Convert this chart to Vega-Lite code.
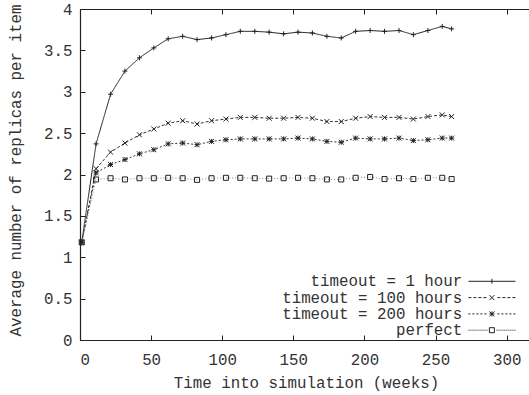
{
 "$schema": "https://vega.github.io/schema/vega-lite/v6.json",
 "width": 449, "height": 331,
 "autosize": "none",
 "padding": {"left": 80, "top": 9, "right": 0, "bottom": 55},
 "background": "white",
 "config": {
  "view": {"stroke": null},
  "font": "Liberation Mono",
  "axis": {"labelFont": "Liberation Mono", "labelFontSize": 15.8, "labelColor": "#333", "titleFont": "Liberation Mono", "titleFontSize": 15.8, "titleFontWeight": "normal", "titleColor": "#333", "domainColor": "#222", "domainWidth": 1.2, "tickColor": "#222", "tickWidth": 1, "grid": false, "tickSize": -5},
  "legend": {"orient": "none", "legendX": 404, "legendY": 264.4, "labelAlign": "right", "labelOffset": -37.5, "labelFont": "Liberation Mono", "labelFontSize": 15.8, "labelColor": "#333", "labelLimit": 400, "symbolSize": 25, "symbolStrokeWidth": 1, "symbolStrokeColor": "#222", "symbolFillColor": "transparent", "symbolOpacity": 1, "rowPadding": -0.7, "padding": 0, "symbolOffset": 0}
 },
 "data": {"values": [
  {"series":"timeout = 1 hour","week":1.2,"value":1.18},{"series":"timeout = 1 hour","week":11.3,"value":2.37},{"series":"timeout = 1 hour","week":21.5,"value":2.97},{"series":"timeout = 1 hour","week":31.6,"value":3.25},{"series":"timeout = 1 hour","week":41.8,"value":3.41},{"series":"timeout = 1 hour","week":51.9,"value":3.53},{"series":"timeout = 1 hour","week":62.0,"value":3.64},{"series":"timeout = 1 hour","week":72.2,"value":3.67},{"series":"timeout = 1 hour","week":82.3,"value":3.63},{"series":"timeout = 1 hour","week":92.5,"value":3.65},{"series":"timeout = 1 hour","week":102.6,"value":3.69},{"series":"timeout = 1 hour","week":112.7,"value":3.73},{"series":"timeout = 1 hour","week":122.9,"value":3.73},{"series":"timeout = 1 hour","week":133.0,"value":3.72},{"series":"timeout = 1 hour","week":143.2,"value":3.70},{"series":"timeout = 1 hour","week":153.3,"value":3.72},{"series":"timeout = 1 hour","week":163.4,"value":3.71},{"series":"timeout = 1 hour","week":173.6,"value":3.67},{"series":"timeout = 1 hour","week":183.7,"value":3.65},{"series":"timeout = 1 hour","week":193.8,"value":3.73},{"series":"timeout = 1 hour","week":204.0,"value":3.74},{"series":"timeout = 1 hour","week":214.1,"value":3.73},{"series":"timeout = 1 hour","week":224.3,"value":3.74},{"series":"timeout = 1 hour","week":234.4,"value":3.69},{"series":"timeout = 1 hour","week":244.6,"value":3.74},{"series":"timeout = 1 hour","week":254.7,"value":3.79},{"series":"timeout = 1 hour","week":261.3,"value":3.76},
  {"series":"timeout = 100 hours","week":1.2,"value":1.18},{"series":"timeout = 100 hours","week":11.3,"value":2.07},{"series":"timeout = 100 hours","week":21.5,"value":2.27},{"series":"timeout = 100 hours","week":31.6,"value":2.38},{"series":"timeout = 100 hours","week":41.8,"value":2.48},{"series":"timeout = 100 hours","week":51.9,"value":2.55},{"series":"timeout = 100 hours","week":62.0,"value":2.62},{"series":"timeout = 100 hours","week":72.2,"value":2.65},{"series":"timeout = 100 hours","week":82.3,"value":2.61},{"series":"timeout = 100 hours","week":92.5,"value":2.65},{"series":"timeout = 100 hours","week":102.6,"value":2.67},{"series":"timeout = 100 hours","week":112.7,"value":2.69},{"series":"timeout = 100 hours","week":122.9,"value":2.69},{"series":"timeout = 100 hours","week":133.0,"value":2.68},{"series":"timeout = 100 hours","week":143.2,"value":2.68},{"series":"timeout = 100 hours","week":153.3,"value":2.69},{"series":"timeout = 100 hours","week":163.4,"value":2.68},{"series":"timeout = 100 hours","week":173.6,"value":2.64},{"series":"timeout = 100 hours","week":183.7,"value":2.64},{"series":"timeout = 100 hours","week":193.8,"value":2.68},{"series":"timeout = 100 hours","week":204.0,"value":2.70},{"series":"timeout = 100 hours","week":214.1,"value":2.69},{"series":"timeout = 100 hours","week":224.3,"value":2.69},{"series":"timeout = 100 hours","week":234.4,"value":2.67},{"series":"timeout = 100 hours","week":244.6,"value":2.70},{"series":"timeout = 100 hours","week":254.7,"value":2.72},{"series":"timeout = 100 hours","week":261.3,"value":2.70},
  {"series":"timeout = 200 hours","week":1.2,"value":1.18},{"series":"timeout = 200 hours","week":11.3,"value":2.02},{"series":"timeout = 200 hours","week":21.5,"value":2.12},{"series":"timeout = 200 hours","week":31.6,"value":2.18},{"series":"timeout = 200 hours","week":41.8,"value":2.25},{"series":"timeout = 200 hours","week":51.9,"value":2.30},{"series":"timeout = 200 hours","week":62.0,"value":2.37},{"series":"timeout = 200 hours","week":72.2,"value":2.38},{"series":"timeout = 200 hours","week":82.3,"value":2.36},{"series":"timeout = 200 hours","week":92.5,"value":2.40},{"series":"timeout = 200 hours","week":102.6,"value":2.42},{"series":"timeout = 200 hours","week":112.7,"value":2.43},{"series":"timeout = 200 hours","week":122.9,"value":2.43},{"series":"timeout = 200 hours","week":133.0,"value":2.43},{"series":"timeout = 200 hours","week":143.2,"value":2.43},{"series":"timeout = 200 hours","week":153.3,"value":2.44},{"series":"timeout = 200 hours","week":163.4,"value":2.43},{"series":"timeout = 200 hours","week":173.6,"value":2.40},{"series":"timeout = 200 hours","week":183.7,"value":2.39},{"series":"timeout = 200 hours","week":193.8,"value":2.44},{"series":"timeout = 200 hours","week":204.0,"value":2.43},{"series":"timeout = 200 hours","week":214.1,"value":2.43},{"series":"timeout = 200 hours","week":224.3,"value":2.44},{"series":"timeout = 200 hours","week":234.4,"value":2.41},{"series":"timeout = 200 hours","week":244.6,"value":2.42},{"series":"timeout = 200 hours","week":254.7,"value":2.44},{"series":"timeout = 200 hours","week":261.3,"value":2.44},
  {"series":"perfect","week":1.2,"value":1.18},{"series":"perfect","week":11.3,"value":1.94},{"series":"perfect","week":21.5,"value":1.955},{"series":"perfect","week":31.6,"value":1.94},{"series":"perfect","week":41.8,"value":1.955},{"series":"perfect","week":51.9,"value":1.955},{"series":"perfect","week":62.0,"value":1.96},{"series":"perfect","week":72.2,"value":1.955},{"series":"perfect","week":82.3,"value":1.935},{"series":"perfect","week":92.5,"value":1.955},{"series":"perfect","week":102.6,"value":1.96},{"series":"perfect","week":112.7,"value":1.96},{"series":"perfect","week":122.9,"value":1.955},{"series":"perfect","week":133.0,"value":1.95},{"series":"perfect","week":143.2,"value":1.955},{"series":"perfect","week":153.3,"value":1.96},{"series":"perfect","week":163.4,"value":1.955},{"series":"perfect","week":173.6,"value":1.94},{"series":"perfect","week":183.7,"value":1.94},{"series":"perfect","week":193.8,"value":1.96},{"series":"perfect","week":204.0,"value":1.97},{"series":"perfect","week":214.1,"value":1.945},{"series":"perfect","week":224.3,"value":1.955},{"series":"perfect","week":234.4,"value":1.945},{"series":"perfect","week":244.6,"value":1.96},{"series":"perfect","week":254.7,"value":1.96},{"series":"perfect","week":261.3,"value":1.945}
 ]},
 "layer": [
  {
   "mark": {"type": "line", "strokeWidth": 1},
   "encoding": {
    "x": {"field": "week", "type": "quantitative", "scale": {"domain": [0, 315.7], "nice": false, "zero": false},
          "axis": {"orient": "bottom", "values": [0,50,100,150,200,250,300], "labelPadding": 17, "title": "Time into simulation (weeks)", "titleX": 226, "titleY": 47, "titleBaseline": "alphabetic", "titleAlign": "center"}},
    "y": {"field": "value", "type": "quantitative", "scale": {"domain": [0, 4], "nice": false},
          "axis": {"values": [0,0.5,1,1.5,2,2.5,3,3.5,4], "format": "~g", "labelPadding": 13, "title": "Average number of replicas per item", "titleX": -60, "titleY": 161, "titleAngle": -90, "titleBaseline": "alphabetic", "titleAlign": "center"}},
    "strokeDash": {"field": "series", "type": "nominal", "scale": {"domain": ["timeout = 1 hour","timeout = 100 hours","timeout = 200 hours","perfect"], "range": [[1,0],[3,2],[2,2],[1,2]]}, "legend": null},
    "color": {"field": "series", "type": "nominal", "scale": {"domain": ["timeout = 1 hour","timeout = 100 hours","timeout = 200 hours","perfect"], "range": ["#222","#333","#333","#888"]}, "legend": null}
   }
  },
  {
   "mark": {"type": "point", "filled": false, "size": 25, "strokeWidth": 1, "opacity": 1, "color": "#222"},
   "encoding": {
    "x": {"field": "week", "type": "quantitative", "axis": {"orient": "top", "values": [0,50,100,150,200,250,300], "labels": false, "title": null}},
    "y": {"field": "value", "type": "quantitative", "scale": {"domain": [0, 4], "nice": false},
          "axis": {"values": [0,0.5,1,1.5,2,2.5,3,3.5,4], "format": "~g", "labelPadding": 13, "title": "Average number of replicas per item", "titleX": -60, "titleY": 161, "titleAngle": -90, "titleBaseline": "alphabetic", "titleAlign": "center"}},
    "shape": {"field": "series", "type": "nominal", "scale": {"domain": ["timeout = 1 hour","timeout = 100 hours","timeout = 200 hours","perfect"], "range": ["M-1,0H1M0,-1V1", "M-1,-1L1,1M-1,1L1,-1", "M-1,0H1M0,-1V1M-1,-1L1,1M-1,1L1,-1", "M-1,-1H1V1H-1Z"]}, "legend": null}
   }
  },
  {
   "transform": [{"filter": "false"}],
   "mark": {"type": "point", "filled": false, "strokeWidth": 1, "opacity": 1, "color": "#222"},
   "encoding": {
    "x": {"field": "week", "type": "quantitative", "axis": null},
    "y": {"field": "value", "type": "quantitative", "scale": {"domain": [0, 4], "nice": false},
          "axis": {"values": [0,0.5,1,1.5,2,2.5,3,3.5,4], "format": "~g", "labelPadding": 13, "title": "Average number of replicas per item", "titleX": -60, "titleY": 161, "titleAngle": -90, "titleBaseline": "alphabetic", "titleAlign": "center"}},
    "shape": {"field": "series", "type": "nominal", "scale": {"domain": ["timeout = 1 hour","timeout = 100 hours","timeout = 200 hours","perfect"], "range": [
      "M-9.4,0H9.4M0,-1V1",
      "M-9.4,0H-8.2M-7.4,0H-6.2M-5.4,0H-4.2M-3.4,0H-2.2M2.2,0H3.4M4.2,0H5.4M6.2,0H7.4M8.2,0H9.4M-1,-1L1,1M-1,1L1,-1",
      "M-9.4,0H-8.6M-7.8,0H-7M-6.2,0H-5.4M-4.6,0H-3.8M-3,0H-2.2M2.2,0H3M3.8,0H4.6M5.4,0H6.2M7,0H7.8M8.6,0H9.4M-1,0H1M0,-1V1M-1,-1L1,1M-1,1L1,-1",
      "M-9.4,0H-9M-8.6,0H-8.2M-7.8,0H-7.4M-7,0H-6.6M-6.2,0H-5.8M-5.4,0H-5M-4.6,0H-4.2M-3.8,0H-3.4M-3,0H-2.6M-2.2,0H-1.8M1.8,0H2.2M2.6,0H3M3.4,0H3.8M4.2,0H4.6M5,0H5.4M5.8,0H6.2M6.6,0H7M7.4,0H7.8M8.2,0H8.6M9,0H9.4M-1,-1H1V1H-1Z"
    ]}, "legend": {"title": null}}
   }
  }
 ],
 "resolve": {"axis": {"x": "independent"}, "scale": {"shape": "independent"}, "legend": {"shape": "independent"}}
}
